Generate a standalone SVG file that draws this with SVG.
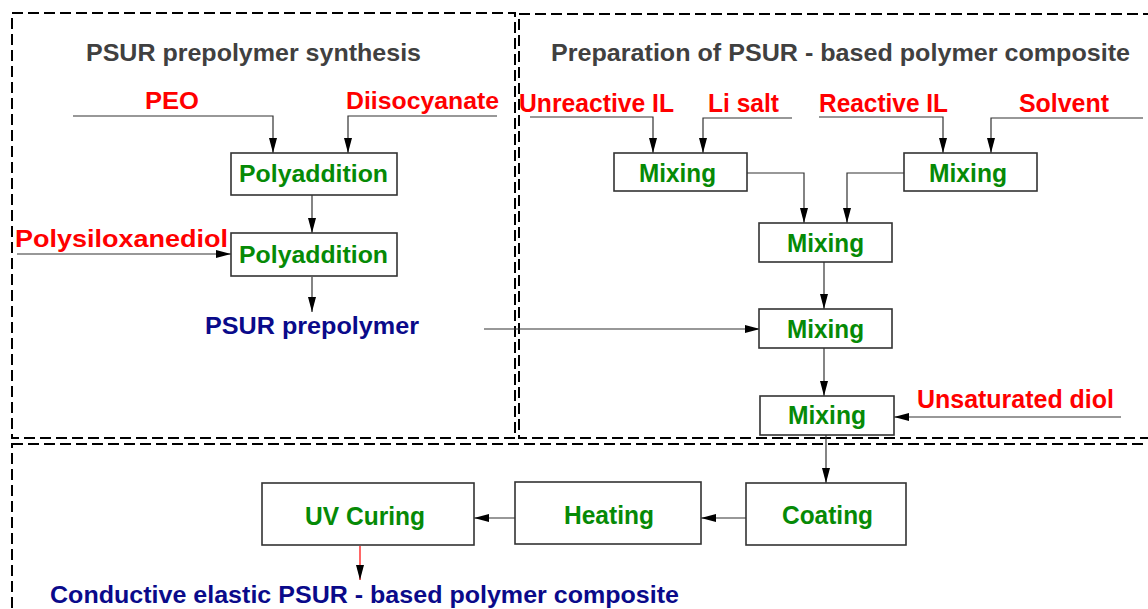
<svg xmlns="http://www.w3.org/2000/svg" width="1148" height="609" viewBox="0 0 1148 609">
<defs>
<marker id="ah" markerUnits="userSpaceOnUse" markerWidth="15" markerHeight="8" refX="15" refY="4" orient="auto">
<path d="M0,0 L15,4 L0,8 z" fill="#000"/>
</marker>
<style>
.frame{fill:none;stroke:#000;stroke-width:2;stroke-dasharray:11 5}
.box{fill:#fff;stroke:#333;stroke-width:1.6}
.t{font-family:"Liberation Sans",Arial,sans-serif;font-weight:bold;font-size:24px}
.big{font-size:25px}
.title{fill:#404040}
.in{fill:#ff0000}
.op{fill:#068a06}
.out{fill:#0a0a8a}
.c{fill:none;stroke:#333;stroke-width:1.2;marker-end:url(#ah)}
</style>
</defs>
<rect width="1148" height="609" fill="#fff"/>
<g id="frames">
<rect class="frame" x="12" y="13" width="503" height="425"/>
<rect class="frame" x="519" y="14" width="640" height="424"/>
<rect class="frame" x="12" y="444" width="1150" height="180"/>
</g>
<g id="titles">
<text class="t title" x="86" y="61" textLength="335" lengthAdjust="spacingAndGlyphs">PSUR prepolymer synthesis</text>
<text class="t title" x="551" y="61" textLength="579" lengthAdjust="spacingAndGlyphs">Preparation of PSUR - based polymer composite</text>
</g>
<g id="connectors">
<path class="c" d="M73,116 H273 V153"/>
<path class="c" d="M497,116 H348 V153"/>
<path class="c" d="M312,195 V233"/>
<path class="c" d="M17,254 H231"/>
<path class="c" d="M312,277 V312"/>
<path class="c" d="M484,329 H760"/>
<path class="c" d="M530,117 H653 V153"/>
<path class="c" d="M792,118 H703 V153"/>
<path class="c" d="M819,117 H943 V153"/>
<path class="c" d="M1143,118 H991 V153"/>
<path class="c" d="M747,173 H804 V223"/>
<path class="c" d="M904,173 H847 V223"/>
<path class="c" d="M824,262 V309"/>
<path class="c" d="M824,348 V396"/>
<path class="c" d="M1121,417 H894"/>
<path class="c" d="M826,435 V483"/>
<path class="c" d="M746,518 H701"/>
<path class="c" d="M515,518 H474"/>
<path class="c" d="M360,546 V580" style="stroke:#ff0000"/>
</g>
<g id="peo"><text class="t in" x="145" y="109" textLength="54" lengthAdjust="spacingAndGlyphs">PEO</text></g>
<g id="diisocyanate"><text class="t in" x="346" y="109" textLength="153" lengthAdjust="spacingAndGlyphs">Diisocyanate</text></g>
<g id="polyaddition1"><rect class="box" x="231" y="153" width="166" height="42"/><text class="t op" x="239" y="182" textLength="149" lengthAdjust="spacingAndGlyphs">Polyaddition</text></g>
<g id="polysiloxanediol"><text class="t in" x="15" y="247" textLength="213" lengthAdjust="spacingAndGlyphs">Polysiloxanediol</text></g>
<g id="polyaddition2"><rect class="box" x="231" y="233" width="166" height="43"/><text class="t op" x="239" y="263" textLength="149" lengthAdjust="spacingAndGlyphs">Polyaddition</text></g>
<g id="psur-prepolymer"><text class="t out" x="205" y="334" textLength="214" lengthAdjust="spacingAndGlyphs">PSUR prepolymer</text></g>
<g id="unreactive-il"><text class="t in big" x="519" y="112" textLength="155" lengthAdjust="spacingAndGlyphs">Unreactive IL</text></g>
<g id="li-salt"><text class="t in big" x="708" y="112" textLength="71" lengthAdjust="spacingAndGlyphs">Li salt</text></g>
<g id="reactive-il"><text class="t in big" x="819" y="112" textLength="129" lengthAdjust="spacingAndGlyphs">Reactive IL</text></g>
<g id="solvent"><text class="t in big" x="1019" y="112" textLength="90" lengthAdjust="spacingAndGlyphs">Solvent</text></g>
<g id="mixing-a"><rect class="box" x="614" y="153" width="133" height="38"/><text class="t op big" x="639" y="182" textLength="77" lengthAdjust="spacingAndGlyphs">Mixing</text></g>
<g id="mixing-b"><rect class="box" x="904" y="153" width="133" height="38"/><text class="t op big" x="929" y="182" textLength="78" lengthAdjust="spacingAndGlyphs">Mixing</text></g>
<g id="mixing-c"><rect class="box" x="759" y="223" width="133" height="39"/><text class="t op big" x="787" y="252" textLength="77" lengthAdjust="spacingAndGlyphs">Mixing</text></g>
<g id="mixing-d"><rect class="box" x="759" y="309" width="133" height="39"/><text class="t op big" x="787" y="338" textLength="77" lengthAdjust="spacingAndGlyphs">Mixing</text></g>
<g id="unsaturated-diol"><text class="t in big" x="917" y="408" textLength="197" lengthAdjust="spacingAndGlyphs">Unsaturated diol</text></g>
<g id="mixing-e"><rect class="box" x="760" y="396" width="134" height="39"/><text class="t op big" x="788" y="424" textLength="78" lengthAdjust="spacingAndGlyphs">Mixing</text></g>
<g id="coating"><rect class="box" x="746" y="483" width="160" height="62"/><text class="t op big" x="782" y="524" textLength="91" lengthAdjust="spacingAndGlyphs">Coating</text></g>
<g id="heating"><rect class="box" x="515" y="482" width="186" height="62"/><text class="t op big" x="564" y="524" textLength="90" lengthAdjust="spacingAndGlyphs">Heating</text></g>
<g id="uv-curing"><rect class="box" x="262" y="483" width="212" height="62"/><text class="t op big" x="305" y="525" textLength="120" lengthAdjust="spacingAndGlyphs">UV Curing</text></g>
<g id="conductive-composite"><text class="t out" x="50" y="603" textLength="629" lengthAdjust="spacingAndGlyphs">Conductive elastic PSUR - based polymer composite</text></g>
</svg>
